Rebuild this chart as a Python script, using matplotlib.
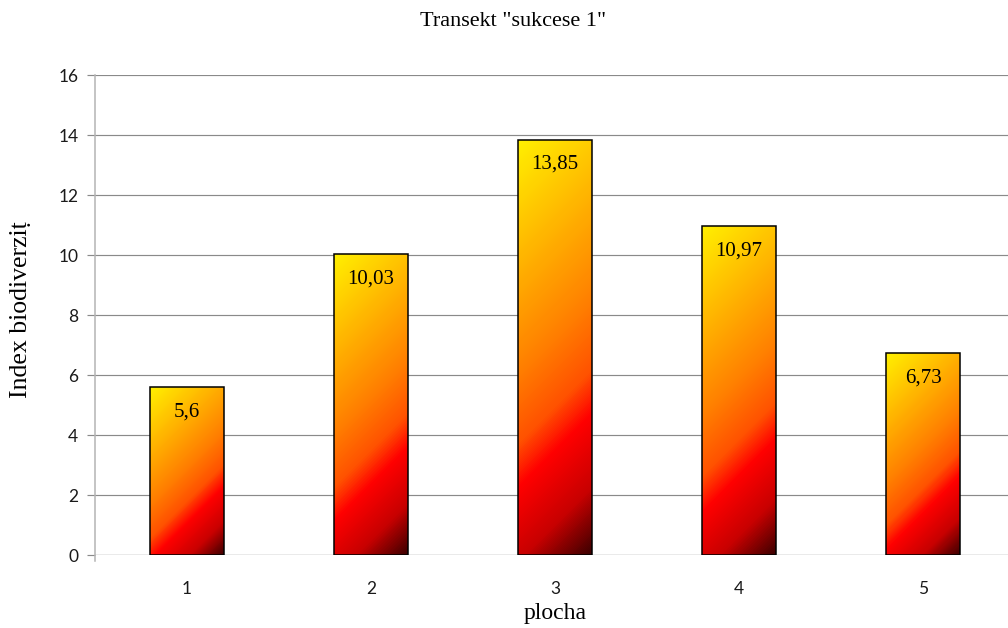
import numpy as np
import matplotlib
matplotlib.use("Agg")
import matplotlib.pyplot as plt
from matplotlib.colors import LinearSegmentedColormap

# Data
plochy = ["1", "2", "3", "4", "5"]
index_values = [5.6, 10.03, 13.85, 10.97, 6.73]
value_labels = ["5,6", "10,03", "13,85", "10,97", "6,73"]
y_ticks = [0, 2, 4, 6, 8, 10, 12, 14, 16]

SERIF = ["Liberation Serif", "DejaVu Serif"]
SANS = ["Lato", "DejaVu Sans"]

fig = plt.figure(figsize=(10.08, 6.28), dpi=100)
ax = fig.add_axes([95 / 1008, 73 / 628, 920 / 1008, 480 / 628])

x = np.arange(1, len(plochy) + 1)
ax.set_xlim(0.5, len(plochy) + 0.5)
ax.set_ylim(0, 16)

# Gridlines and axes styling
ax.set_yticks(y_ticks)
ax.yaxis.grid(True, color="#8a8a8a", linewidth=0.85)
ax.set_axisbelow(True)
for side in ("top", "right", "bottom"):
    ax.spines[side].set_visible(False)
ax.spines["left"].set_color("#b4b4b4")
ax.spines["left"].set_linewidth(1.1)
ax.spines["left"].set_bounds(-0.2, 16)
ax.spines["left"].set_clip_on(False)
ax.axhline(0, color="#8a8a8a", linewidth=0.85, zorder=1)

ax.tick_params(axis="y", length=6, width=0.85, color="#8a8a8a", pad=6,
               labelsize=12.5)
ax.tick_params(axis="x", length=0, pad=19, labelsize=12.5)
ax.set_xticks(x)
ax.set_xticklabels(plochy)
for lab in ax.get_xticklabels() + ax.get_yticklabels():
    lab.set_family(SANS)
    lab.set_color("#1a1a1a")

bars = ax.bar(x, index_values, width=0.4, facecolor="none",
              edgecolor="black", linewidth=1.1, zorder=3)

# Diagonal gradient fill: yellow (top-left) -> orange -> red -> dark (bottom-right)
cmap = LinearSegmentedColormap.from_list(
    "fire",
    [(0.0, "#fff000"), (0.47, "#ff8000"), (0.62, "#ff5200"), (0.71, "#ff0000"),
     (0.86, "#c80000"), (1.0, "#380000")],
)
fig.canvas.draw()
for bar in bars:
    x0, y0 = bar.get_x(), bar.get_y()
    w, h = bar.get_width(), bar.get_height()
    (px0, py0), (px1, py1) = ax.transData.transform([(x0, y0), (x0 + w, y0 + h)])
    wp = max(int(round(px1 - px0)), 2)
    hp = max(int(round(py1 - py0)), 2)
    cols = np.arange(wp)[None, :]
    rows = np.arange(hp)[:, None]
    t = (cols + rows) / (wp + hp)
    im = ax.imshow(t, cmap=cmap, vmin=0, vmax=1, origin="upper",
                   extent=(x0, x0 + w, y0, y0 + h), aspect="auto",
                   interpolation="bilinear", zorder=2)
    im.set_clip_path(bar)

ax.set_xlim(0.5, len(plochy) + 0.5)
ax.set_ylim(0, 16)

# Value labels inside the bars, near the top
for xi, v, lab in zip(x, index_values, value_labels):
    ax.annotate(lab, (xi, v), xytext=(0, -25), textcoords="offset pixels",
                ha="center", va="center", fontsize=15, family=SERIF,
                color="black", zorder=4)

fig.text(513 / 1008, 1 - 21 / 628, 'Transekt "sukcese 1"', ha="center",
         va="center", fontsize=16, family=SERIF)
fig.text(555 / 1008, 14 / 628, "plocha", ha="center", va="center",
         fontsize=17, family=SERIF)
fig.text(21 / 1008, 1 - 310 / 628, "Index biodiverzi\u1e6d", ha="center",
         va="center", rotation=90, fontsize=18.5, family=SERIF)

fig.savefig("out.png", dpi=100)
